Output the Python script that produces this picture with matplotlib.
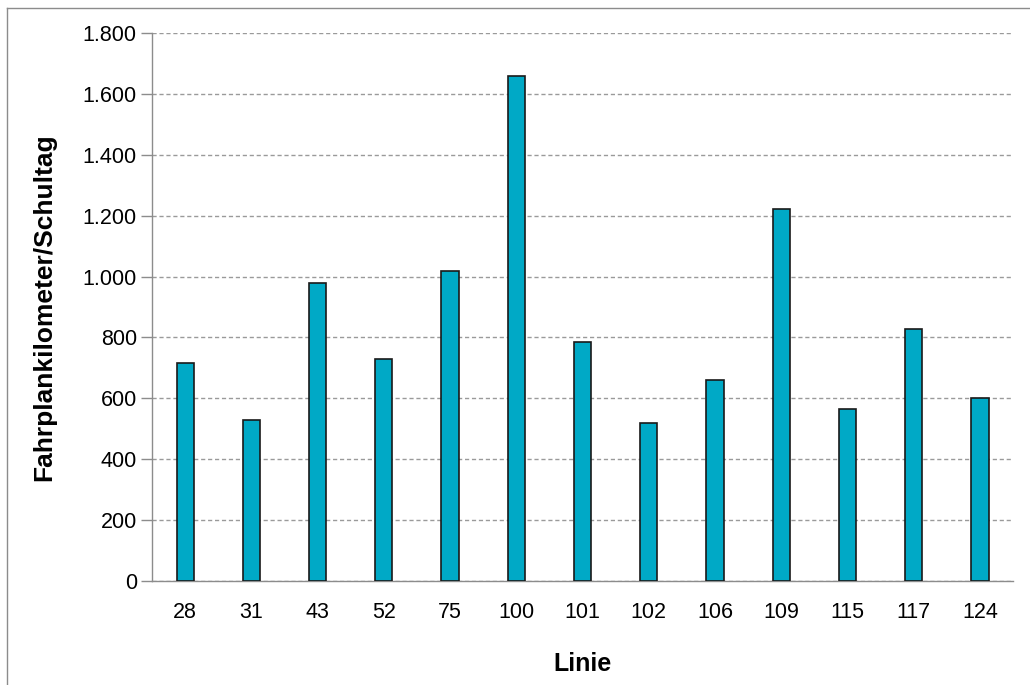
import matplotlib.pyplot as plt
from matplotlib.lines import Line2D
from matplotlib.ticker import FuncFormatter

plt.rcParams['font.family'] = ['Liberation Sans', 'DejaVu Sans']

linien = ['28', '31', '43', '52', '75', '100', '101', '102', '106', '109', '115', '117', '124']
km_pro_schultag = [716, 529, 979, 729, 1018, 1659, 785, 519, 660, 1222, 565, 828, 601]

fig = plt.figure(figsize=(10.3, 6.85), dpi=100)
ax = fig.add_axes([0.1476, 0.1518, 0.836, 0.8])

x = range(len(linien))
ax.bar(x, km_pro_schultag, width=0.26, color='#00A9C6', edgecolor='#1a1a1a',
       linewidth=1.2, zorder=3)

ax.set_xlim(-0.5, len(linien) - 0.5)
ax.set_ylim(0, 1800)
ax.set_yticks(range(0, 1801, 200))
# Tausenderpunkt wie im deutschen Excel
ax.yaxis.set_major_formatter(FuncFormatter(lambda v, p: f'{int(v):,}'.replace(',', '.')))
ax.set_xticks(list(x))
ax.set_xticklabels(linien)

ax.grid(axis='y', color='#9a9a9a', linestyle=(0, (3, 2)), linewidth=1.0, zorder=0)
for side in ('top', 'right'):
    ax.spines[side].set_visible(False)
for side in ('left', 'bottom'):
    ax.spines[side].set_color('#8c8c8c')
    ax.spines[side].set_linewidth(1.0)

ax.tick_params(axis='y', length=8, width=1.0, color='#8c8c8c', labelsize=15.5, pad=3)
ax.tick_params(axis='x', length=0, labelsize=15.5, pad=15)

ax.set_ylabel('Fahrplankilometer/Schultag', fontsize=19, fontweight='bold', labelpad=19)
ax.set_xlabel('Linie', fontsize=18, fontweight='bold', labelpad=21)

# Rahmen um das Diagramm
fig.add_artist(Line2D([7 / 1030, 7 / 1030], [0, 1 - 8 / 685], transform=fig.transFigure,
                      color='#8c8c8c', linewidth=1.0))
fig.add_artist(Line2D([7 / 1030, 1], [1 - 8 / 685, 1 - 8 / 685], transform=fig.transFigure,
                      color='#8c8c8c', linewidth=1.0))

fig.savefig('out.png', dpi=100)
